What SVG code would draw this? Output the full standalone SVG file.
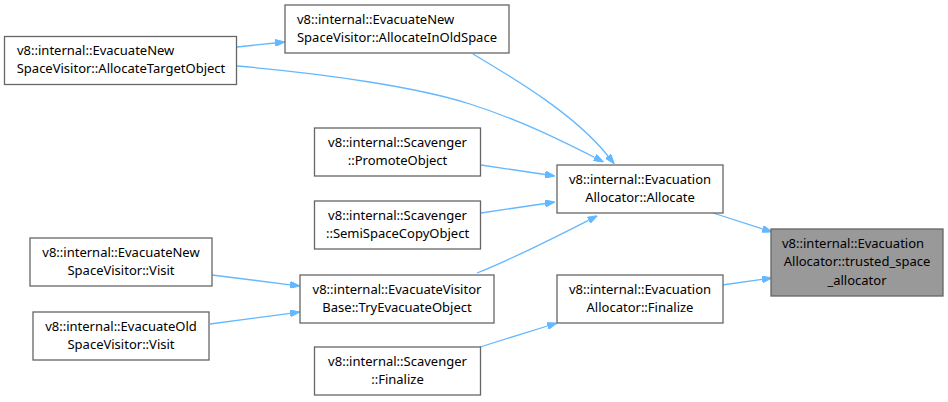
<svg xmlns="http://www.w3.org/2000/svg" width="948" height="402" viewBox="0 0 948 402">
<defs>
<style>
.n rect{fill:#ffffff;stroke:#666666;stroke-width:1.3}
.n.hl rect{fill:#999999}
.n text{font-family:"Noto Sans","DejaVu Sans",sans-serif;font-size:13px;fill:#000000}
.m{text-anchor:middle}
.s{text-anchor:start}
.e path{fill:none;stroke:#63b8ff;stroke-width:1.3}
</style>
<marker id="ah" viewBox="0 0 10 7" refX="0" refY="3.5" markerWidth="10" markerHeight="7" markerUnits="userSpaceOnUse" orient="auto">
<path d="M0,0 L10,3.5 L0,7 z" fill="#63b8ff" stroke="#63b8ff" stroke-width="1"/>
</marker>
</defs>
<rect width="948" height="402" fill="#ffffff"/>
<g class="e" id="edges">
<path marker-end="url(#ah)" d="M237,47 L275,43"/>
<path marker-end="url(#ah)" d="M473,54 C520,82 575,115 608,156"/>
<path marker-end="url(#ah)" d="M237,66 C330,74 420,88 470,104 C520,120 560,140 594.7,157.5"/>
<path marker-end="url(#ah)" d="M481,165 L545.1,174.5"/>
<path marker-end="url(#ah)" d="M481,213 L545.1,203.5"/>
<path marker-end="url(#ah)" d="M477,273 C505,262 540,245 588.5,220.3"/>
<path marker-end="url(#ah)" d="M713,213 L762.5,228.9"/>
<path marker-end="url(#ah)" d="M722,285 L762.1,279.4"/>
<path marker-end="url(#ah)" d="M212,275 L290.1,284.8"/>
<path marker-end="url(#ah)" d="M210,324 L290.1,313.3"/>
<path marker-end="url(#ah)" d="M480,347 L547.5,326"/>
</g>
<g class="n hl" id="node_target">
<rect x="771" y="229" width="172" height="67"/>
<text class="s" x="782" y="248">v8::internal::Evacuation</text>
<text class="m" x="857" y="266">Allocator::trusted_space</text>
<text class="m" x="857" y="285">_allocator</text>
</g>
<g class="n" id="node_allocate">
<rect x="557" y="165" width="166" height="48"/>
<text class="m" x="640" y="184">v8::internal::Evacuation</text>
<text class="m" x="640" y="202">Allocator::Allocate</text>
</g>
<g class="n" id="node_ea_finalize">
<rect x="557" y="275" width="166" height="48"/>
<text class="m" x="640" y="294">v8::internal::Evacuation</text>
<text class="m" x="640" y="312">Allocator::Finalize</text>
</g>
<g class="n" id="node_alloc_old">
<rect x="285" y="5" width="224" height="48"/>
<text class="s" x="297" y="24">v8::internal::EvacuateNew</text>
<text class="m" x="397" y="42">SpaceVisitor::AllocateInOldSpace</text>
</g>
<g class="n" id="node_alloc_target">
<rect x="4.5" y="36.5" width="232" height="48"/>
<text class="s" x="17" y="55">v8::internal::EvacuateNew</text>
<text class="m" x="121" y="73">SpaceVisitor::AllocateTargetObject</text>
</g>
<g class="n" id="node_promote">
<rect x="314.5" y="128" width="166" height="48"/>
<text class="m" x="397.5" y="147">v8::internal::Scavenger</text>
<text class="m" x="397.5" y="165">::PromoteObject</text>
</g>
<g class="n" id="node_semispace">
<rect x="314.5" y="201" width="166" height="48"/>
<text class="m" x="397.5" y="220">v8::internal::Scavenger</text>
<text class="m" x="397.5" y="238">::SemiSpaceCopyObject</text>
</g>
<g class="n" id="node_try_evacuate">
<rect x="300" y="275" width="194" height="48"/>
<text class="m" x="397" y="294">v8::internal::EvacuateVisitor</text>
<text class="m" x="397" y="312">Base::TryEvacuateObject</text>
</g>
<g class="n" id="node_scav_finalize">
<rect x="314.5" y="347" width="166" height="48"/>
<text class="m" x="397.5" y="366">v8::internal::Scavenger</text>
<text class="m" x="397.5" y="384">::Finalize</text>
</g>
<g class="n" id="node_new_visit">
<rect x="30" y="238" width="182" height="48"/>
<text class="m" x="121" y="257">v8::internal::EvacuateNew</text>
<text class="m" x="121" y="275">SpaceVisitor::Visit</text>
</g>
<g class="n" id="node_old_visit">
<rect x="33" y="312" width="176" height="48"/>
<text class="m" x="121" y="331">v8::internal::EvacuateOld</text>
<text class="m" x="121" y="349">SpaceVisitor::Visit</text>
</g>
</svg>
